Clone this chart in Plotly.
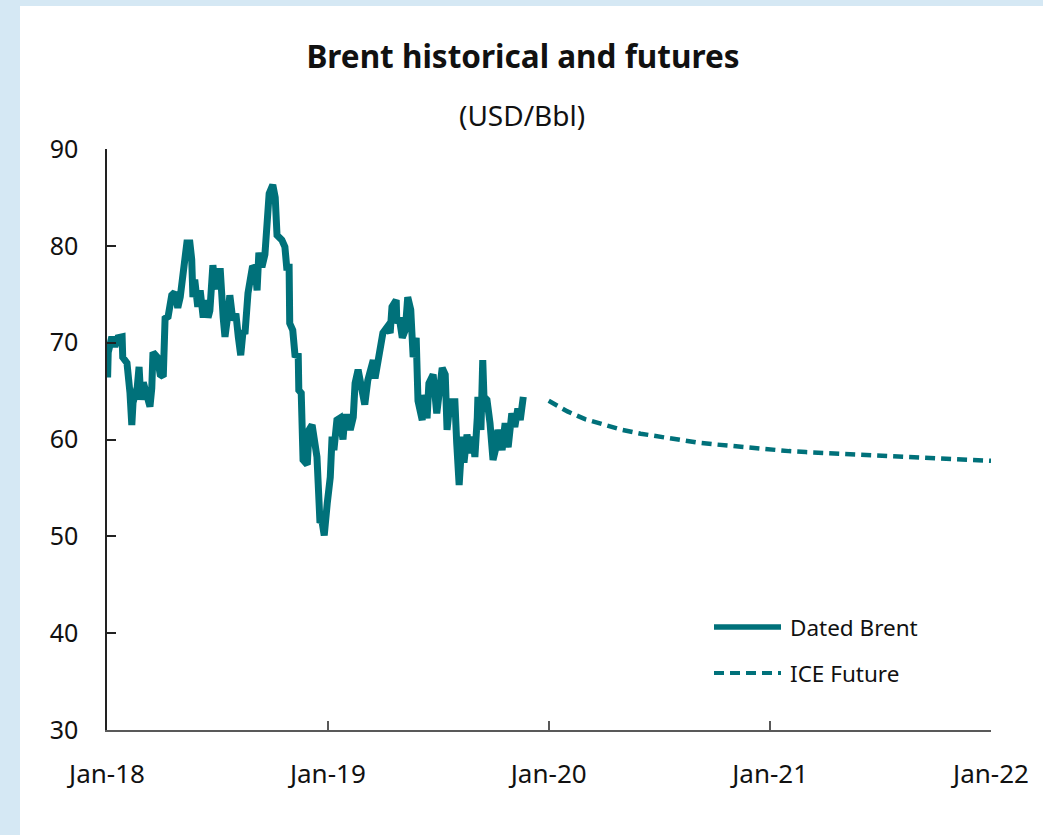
import plotly.graph_objects as go

# ---- data ----
brent_dates = [
    "2018-01-02", "2018-01-03", "2018-01-09", "2018-01-14", "2018-01-19", "2018-01-26", "2018-01-27",
    "2018-02-03", "2018-02-08", "2018-02-11", "2018-02-13", "2018-02-20", "2018-02-23", "2018-02-26",
    "2018-03-02", "2018-03-08", "2018-03-13", "2018-03-16", "2018-03-18", "2018-03-25", "2018-03-30",
    "2018-04-04", "2018-04-07", "2018-04-12", "2018-04-18", "2018-04-23", "2018-04-28",
    "2018-05-02", "2018-05-07", "2018-05-13", "2018-05-18", "2018-05-21", "2018-05-23", "2018-05-26", "2018-05-31",
    "2018-06-04", "2018-06-09", "2018-06-12", "2018-06-17", "2018-06-20", "2018-06-25", "2018-06-28",
    "2018-07-03", "2018-07-07", "2018-07-12", "2018-07-15", "2018-07-20", "2018-07-23", "2018-07-28",
    "2018-08-02", "2018-08-06", "2018-08-10", "2018-08-14", "2018-08-17", "2018-08-22", "2018-08-29",
    "2018-09-03", "2018-09-06", "2018-09-09", "2018-09-14", "2018-09-19", "2018-09-22", "2018-09-26",
    "2018-10-02", "2018-10-06", "2018-10-09", "2018-10-17", "2018-10-22", "2018-10-25", "2018-10-29", "2018-10-30",
    "2018-11-04", "2018-11-08", "2018-11-13", "2018-11-14", "2018-11-18", "2018-11-19", "2018-11-21", "2018-11-28",
    "2018-12-01", "2018-12-06", "2018-12-09", "2018-12-14", "2018-12-16", "2018-12-19", "2018-12-22", "2018-12-26", "2018-12-31",
    "2019-01-05", "2019-01-08", "2019-01-11", "2019-01-16", "2019-01-21", "2019-01-26", "2019-01-29",
    "2019-02-03", "2019-02-07", "2019-02-12", "2019-02-15", "2019-02-20", "2019-02-26",
    "2019-03-03", "2019-03-08", "2019-03-17", "2019-03-20", "2019-03-27",
    "2019-04-02", "2019-04-09", "2019-04-14", "2019-04-17", "2019-04-24", "2019-04-25", "2019-04-29",
    "2019-05-04", "2019-05-09", "2019-05-13", "2019-05-18", "2019-05-22", "2019-05-27", "2019-05-30",
    "2019-06-02", "2019-06-06", "2019-06-07", "2019-06-14", "2019-06-17", "2019-06-24", "2019-06-30",
    "2019-07-05", "2019-07-09", "2019-07-14", "2019-07-17", "2019-07-22", "2019-07-30",
    "2019-08-02", "2019-08-06", "2019-08-11", "2019-08-14", "2019-08-19", "2019-08-24", "2019-08-29",
    "2019-09-01", "2019-09-05", "2019-09-06", "2019-09-11", "2019-09-14", "2019-09-16", "2019-09-21", "2019-09-26",
    "2019-10-01", "2019-10-06", "2019-10-09", "2019-10-16", "2019-10-21", "2019-10-26",
    "2019-11-01", "2019-11-06", "2019-11-11", "2019-11-15", "2019-11-20",
]
brent_values = [
    66.4, 69.0, 70.6, 69.6, 70.5, 70.6, 68.5,
    67.9, 64.8, 61.5, 63.8, 65.4, 67.5, 64.1,
    65.9, 64.1, 63.4, 65.3, 69.0, 68.5, 66.7,
    66.5, 72.5, 72.7, 74.9, 75.2, 73.6,
    74.7, 77.3, 80.3, 80.3, 78.6, 74.7, 76.5, 73.7,
    75.4, 72.6, 74.4, 72.6, 73.3, 78.0, 76.2,
    75.6, 77.7, 72.6, 70.6, 73.0, 74.9, 72.3,
    73.0, 70.6, 68.7, 71.3, 70.9, 75.1, 77.7,
    77.8, 75.4, 79.3, 77.8, 79.1, 82.4, 85.4,
    86.3, 85.0, 81.1, 80.6, 79.9, 77.8, 77.8, 72.0,
    71.3, 68.5, 68.9, 65.1, 64.8, 62.3, 57.9, 57.4,
    61.0, 61.5, 60.3, 58.2, 55.5, 51.4, 51.7, 50.1, 53.4,
    56.1, 60.3, 58.9, 62.0, 62.2, 60.0, 62.3,
    62.3, 61.0, 62.3, 65.8, 67.2, 65.1,
    63.6, 66.1, 68.2, 66.3, 69.2,
    71.0, 71.6, 71.0, 73.7, 74.4, 72.0, 72.6,
    70.5, 71.3, 74.7, 73.4, 68.5, 70.5, 64.0,
    62.7, 62.0, 64.6, 62.2, 65.8, 66.7, 62.7,
    64.8, 67.4, 66.7, 61.0, 63.9, 63.9,
    59.6, 55.3, 60.3, 57.6, 60.5, 58.6, 60.3,
    58.2, 62.3, 64.4, 61.0, 68.2, 64.4, 64.1, 61.7,
    57.9, 59.2, 61.0, 58.9, 61.7, 59.2,
    62.7, 61.3, 63.2, 62.0, 64.4,
]

future_dates = [
    "2020-01-01", "2020-02-01", "2020-03-01", "2020-04-01", "2020-05-01", "2020-06-01",
    "2020-07-01", "2020-08-01", "2020-09-01", "2020-10-01", "2020-11-01", "2020-12-01",
    "2021-01-01", "2021-02-01", "2021-03-01", "2021-04-01", "2021-05-01", "2021-06-01",
    "2021-07-01", "2021-08-01", "2021-09-01", "2021-10-01", "2021-11-01", "2021-12-01",
    "2022-01-01",
]
future_values = [
    64.0, 62.9, 62.1, 61.5, 61.0, 60.6,
    60.3, 60.0, 59.7, 59.5, 59.3, 59.1,
    58.9, 58.8, 58.7, 58.6, 58.5, 58.4,
    58.3, 58.2, 58.15, 58.1, 58.0, 57.9,
    57.8,
]

x_tick_vals = ["2018-01-01", "2019-01-01", "2020-01-01", "2021-01-01", "2022-01-01"]
x_tick_text = ["Jan-18", "Jan-19", "Jan-20", "Jan-21", "Jan-22"]
y_tick_vals = [30, 40, 50, 60, 70, 80, 90]

series_names = ["Dated Brent", "ICE Future"]

# ---- style ----
TEAL = "#00717A"
BG = "#D5E8F4"
W, H = 1043, 835
ML, MR, MT, MB = 107, 52, 149, 105
PW, PH = W - ML - MR, H - MT - MB


def px_x(p):
    return (p - ML) / PW


def px_y(p):
    return (H - MB - p) / PH


fig = go.Figure()
fig.add_trace(go.Scatter(
    x=brent_dates, y=brent_values, mode="lines", name=series_names[0],
    line=dict(color=TEAL, width=7), showlegend=False,
))
fig.add_trace(go.Scatter(
    x=future_dates, y=future_values, mode="lines", name=series_names[1],
    line=dict(color=TEAL, width=4.5, dash="10px,6px"), showlegend=False,
))

shapes = [
    # white panel
    dict(type="rect", xref="paper", yref="paper",
         x0=px_x(20), x1=px_x(W + 5), y0=px_y(H + 5), y1=px_y(6),
         fillcolor="white", line=dict(width=0), layer="below"),
    # manual legend
    dict(type="line", xref="paper", yref="paper",
         x0=px_x(714), x1=px_x(781), y0=px_y(627), y1=px_y(627),
         line=dict(color=TEAL, width=5.5)),
    dict(type="line", xref="paper", yref="paper",
         x0=px_x(714), x1=px_x(781), y0=px_y(673), y1=px_y(673),
         line=dict(color=TEAL, width=4, dash="10px,6px")),
]

annotations = [
    dict(text="(USD/Bbl)", xref="paper", yref="paper", x=px_x(522), y=px_y(115),
         xanchor="center", yanchor="middle", showarrow=False,
         font=dict(family="Noto Sans", size=28, color="#111")),
    dict(text=series_names[0], xref="paper", yref="paper", x=px_x(788), y=px_y(627),
         xanchor="left", yanchor="middle", showarrow=False,
         font=dict(family="Noto Sans", size=22.5, color="#111")),
    dict(text=series_names[1], xref="paper", yref="paper", x=px_x(788), y=px_y(673),
         xanchor="left", yanchor="middle", showarrow=False,
         font=dict(family="Noto Sans", size=22.5, color="#111")),
]

fig.update_layout(
    width=W, height=H,
    margin=dict(l=ML, r=MR, t=MT, b=MB, pad=0),
    paper_bgcolor=BG, plot_bgcolor="white",
    title=dict(text="<b>Brent historical and futures</b>", x=523 / W, y=1 - 57 / H,
               xanchor="center", yanchor="middle",
               font=dict(family="Noto Sans", size=31.5, color="#111")),
    shapes=shapes, annotations=annotations,
    showlegend=False,
    font=dict(family="Noto Sans", size=22, color="#111"),
)

fig.update_xaxes(
    type="date", range=["2018-01-01", "2022-01-01"],
    tickvals=x_tick_vals, ticktext=x_tick_text,
    showgrid=False, zeroline=False,
    showline=True, linecolor="#595959", linewidth=1.5,
    ticks="inside", ticklen=9, tickwidth=1.5, tickcolor="#595959",
    ticklabelstandoff=20,
    tickfont=dict(family="Noto Sans", size=26, color="#111"),
)
fig.update_yaxes(
    range=[30, 90], tickvals=y_tick_vals,
    showgrid=False, zeroline=False,
    showline=True, linecolor="#222", linewidth=1.5,
    ticks="inside", ticklen=9, tickwidth=1.5, tickcolor="#222",
    ticklabelstandoff=22,
    tickfont=dict(family="Noto Sans", size=25, color="#111"),
)

fig.write_html("out.html")
